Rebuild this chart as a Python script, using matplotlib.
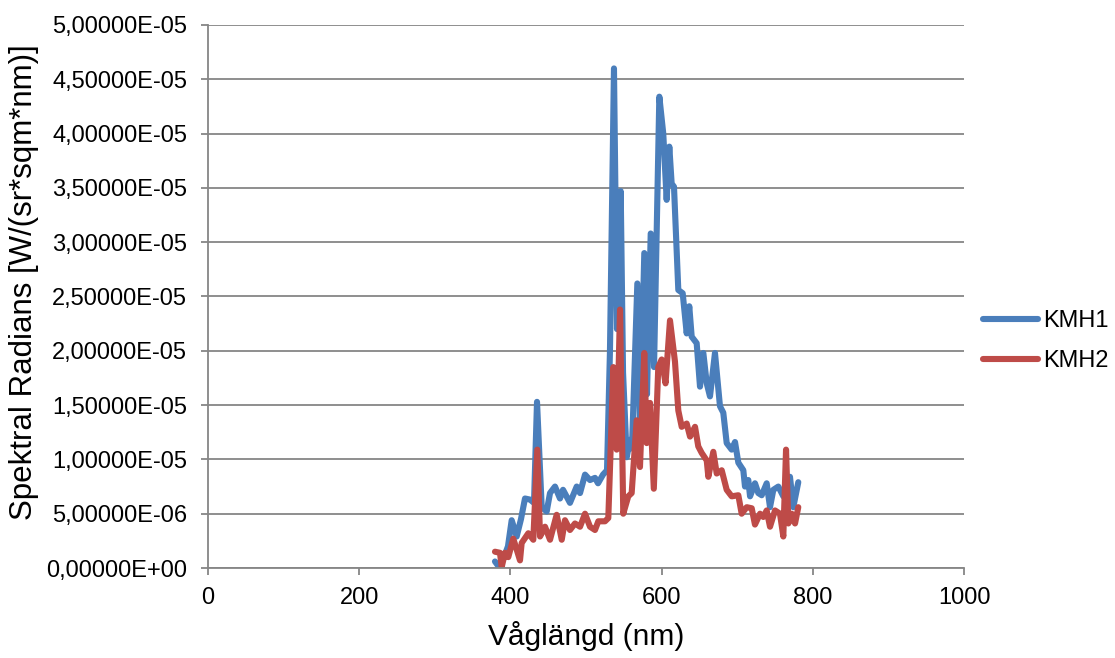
import matplotlib
matplotlib.use("Agg")
import matplotlib.pyplot as plt
from matplotlib.ticker import FuncFormatter, MultipleLocator
import numpy as np

plt.rcParams['font.family'] = ['Liberation Sans', 'DejaVu Sans']

# KMH1 (wavelength nm, spectral radiance in 1e-6 W/(sr*sqm*nm))
kmh1_wl = [379.6, 384.9, 391.5, 396.8, 401.7, 408.3, 414.0, 419.3, 425.9, 431.2,
           435.2, 441.4, 448.0, 452.4, 459.0, 465.6, 469.6, 478.8, 487.7, 492.1,
           498.7, 505.3, 511.9, 515.9, 522.5, 527.8, 531.7, 537.0, 541.0, 545.9,
           549.0, 553.8, 558.2, 560.8, 567.9, 571.4, 577.1, 580.7, 585.6, 590.0,
           597.0, 602.2, 606.7, 610.2, 613.3, 616.4, 622.1, 627.9, 633.2, 636.6,
           639.8, 646.4, 650.8, 655.2, 659.7, 664.0, 670.6, 677.2, 681.6, 686.1,
           692.7, 697.1, 701.5, 708.1, 710.3, 714.7, 717.0, 723.5, 727.9, 732.4,
           739.0, 743.4, 747.8, 754.4, 761.0, 769.8, 774.2, 780.8]
kmh1_val = [0.6, 0.1, 1.0, 2.0, 4.4, 2.9, 4.5, 6.4, 6.3, 6.0,
            15.3, 5.6, 5.2, 6.9, 7.5, 6.4, 7.2, 6.0, 7.5, 6.9,
            8.6, 8.1, 8.3, 7.8, 8.6, 9.0, 20.0, 46.0, 22.0, 34.7,
            18.0, 10.2, 11.8, 11.0, 26.2, 12.5, 29.0, 16.0, 30.8, 18.5,
            43.4, 40.0, 33.9, 38.8, 35.4, 35.1, 25.6, 25.3, 21.6, 24.1,
            21.3, 20.7, 16.7, 19.8, 17.0, 15.8, 19.8, 14.9, 14.3, 11.5,
            10.9, 11.6, 9.7, 9.0, 7.5, 8.1, 6.6, 7.8, 6.9, 6.7,
            7.8, 5.6, 7.2, 7.5, 6.6, 8.4, 5.6, 7.9]

# KMH2
kmh2_wl = [379.6, 386.2, 388.5, 392.9, 397.2, 403.8, 408.3, 412.7, 414.9, 423.7,
           430.3, 435.6, 439.2, 445.8, 452.4, 461.2, 467.9, 472.2, 478.8, 485.4,
           492.1, 498.7, 505.3, 511.9, 516.3, 525.1, 529.5, 533.1, 536.1, 540.6,
           545.0, 549.3, 555.9, 560.4, 567.0, 571.4, 577.1, 580.3, 584.7, 589.7,
           595.6, 600.1, 605.2, 611.1, 617.7, 622.1, 626.6, 633.2, 637.6, 644.2,
           648.5, 653.0, 659.7, 661.8, 668.4, 672.9, 679.5, 686.1, 692.7, 701.5,
           705.9, 712.6, 719.2, 723.5, 730.2, 734.5, 739.0, 743.4, 750.0, 756.6,
           761.0, 764.6, 767.7, 772.1, 776.5, 780.8]
kmh2_val = [1.5, 1.4, 0.1, 1.4, 1.0, 2.7, 1.7, 0.7, 2.3, 3.2,
            2.6, 10.9, 2.9, 3.8, 2.6, 4.9, 2.6, 4.4, 3.5, 4.1,
            3.8, 5.0, 3.8, 3.5, 4.3, 4.3, 4.6, 12.0, 18.5, 10.9,
            23.8, 5.0, 6.6, 6.9, 13.6, 9.3, 19.8, 11.5, 15.2, 7.3,
            18.5, 19.2, 17.0, 22.8, 19.0, 14.5, 13.0, 13.3, 12.1, 13.0,
            11.2, 10.6, 9.9, 8.4, 10.7, 8.7, 9.0, 7.2, 6.6, 6.7,
            5.0, 5.6, 5.5, 4.0, 5.0, 4.7, 5.3, 3.8, 5.3, 5.0,
            2.9, 10.9, 4.1, 5.0, 4.1, 5.6]

series_names = ["KMH1", "KMH2"]
series_colors = ["#4A7EBB", "#BE4B48"]
x_label = "Våglängd (nm)"
y_label = "Spektral Radians [W/(sr*sqm*nm)]"

fig = plt.figure(figsize=(11.15, 6.58), dpi=100)
ax = fig.add_axes([208/1115, 1-568/658, (964-208)/1115, (568-25)/658])

for wl, val, name, col in zip([kmh1_wl, kmh2_wl], [kmh1_val, kmh2_val], series_names, series_colors):
    ax.plot(wl, np.array(val) * 1e-6, color=col, lw=4.4, label=name,
            solid_joinstyle='round', solid_capstyle='round')

ax.set_xlim(0, 1000)
ax.set_ylim(0, 5e-5)
ax.xaxis.set_major_locator(MultipleLocator(200))
ax.yaxis.set_major_locator(MultipleLocator(5e-6))
ax.yaxis.set_major_formatter(FuncFormatter(lambda v, p: f"{v:.5E}".replace('.', ',')))

gcol = "#868686"
ax.grid(axis='y', color=gcol, lw=1.3)
ax.set_axisbelow(True)
for s in ['top', 'right']:
    ax.spines[s].set_visible(False)
for s in ['left', 'bottom']:
    ax.spines[s].set_color(gcol)
    ax.spines[s].set_linewidth(1.3)
ax.tick_params(axis='both', direction='out', length=5, width=1.3, color=gcol,
               labelsize=17, labelcolor='black')
ax.tick_params(axis='y', pad=10)
ax.tick_params(axis='x', pad=9)

ax.set_xlabel(x_label, fontsize=21.5, labelpad=8)
ax.set_ylabel(y_label, fontsize=22.5)
ax.yaxis.set_label_coords(-0.224, 0.527)

fig.legend(loc='center left', bbox_to_anchor=(983/1115, 1-341/658), frameon=False,
           fontsize=17, handlelength=2.35, handletextpad=0.2, labelspacing=0.75,
           borderpad=0, borderaxespad=0)

fig.savefig("out.png", dpi=100)
